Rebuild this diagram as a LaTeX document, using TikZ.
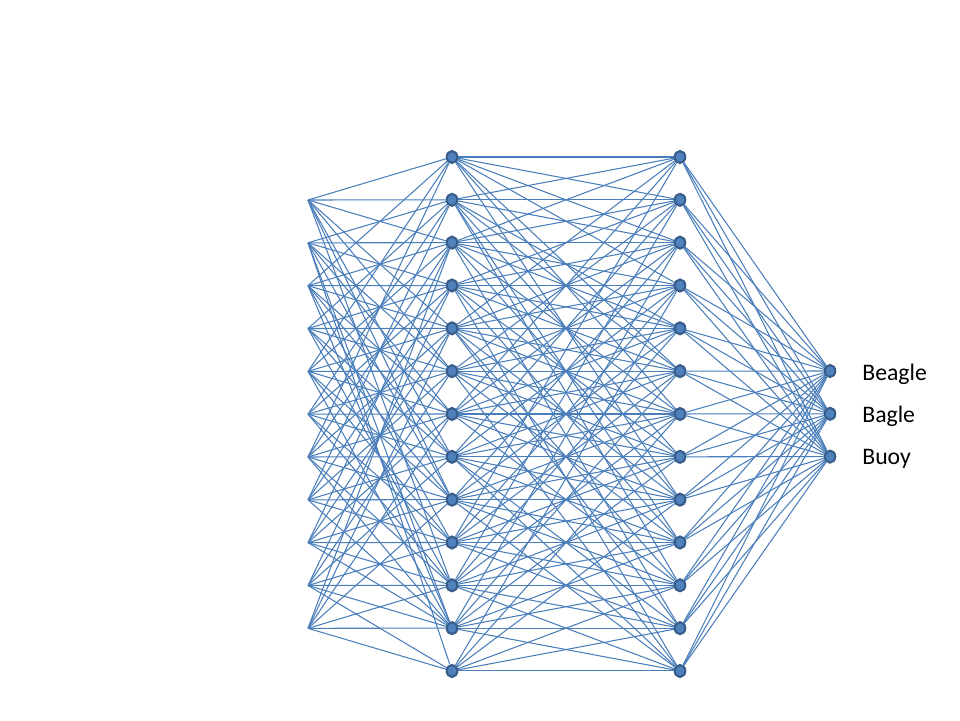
\documentclass[tikz,border=0pt]{standalone}
\usepackage{fontspec}
\setmainfont{Carlito}
\usetikzlibrary{shapes.geometric,backgrounds}
\definecolor{edgeblue}{HTML}{4A7EBB}
\definecolor{nodefill}{HTML}{4F81BD}
\definecolor{nodeline}{HTML}{385D8A}
\newlength{\pxu}
\setlength{\pxu}{0.02cm}
\tikzset{
  neuron/.style={ellipse,draw=nodeline,fill=nodefill,line width=1.2pt,minimum width=10.5\pxu,minimum height=12\pxu,inner sep=0pt},
  conn/.style={draw=edgeblue,line width=0.6pt},
  lbl/.style={anchor=west,font=\fontsize{13.5}{15}\selectfont,inner sep=0pt}
}
\begin{document}
\begin{tikzpicture}[x=0.02cm,y=-0.02cm]
\useasboundingbox (0,0) rectangle (960,720);
% input points
\foreach \i in {0,...,10}{
  \coordinate (in\i) at (308,{200+42.83*\i});
}
% hidden layers
\foreach \j in {0,...,12}{
  \node[neuron] (ha\j) at (452,{157+42.83*\j}) {};
  \node[neuron] (hb\j) at (680,{157+42.83*\j}) {};
}
% outputs
\node[neuron] (o0) at (830,371) {};
\node[neuron] (o1) at (830,413.8) {};
\node[neuron] (o2) at (830,456.6) {};
\node[lbl] (l0) at (862,374) {Beagle};
\node[lbl] (l1) at (862,416) {Bagle};
\node[lbl] (l2) at (862,459) {Buoy};
\begin{scope}[on background layer]
% input -> hidden 1
\foreach \i/\targets in {
  0/{0,1,2,4,5,7,8,10},
  1/{1,2,3,5,6,8,11,12},
  2/{0,2,3,4,6,7,9,11},
  3/{1,3,4,5,7,8,10},
  4/{0,2,4,5,6,8,9,11},
  5/{1,3,5,6,7,9,10},
  6/{0,2,4,6,7,8,10,11},
  7/{1,3,5,7,8,9,11},
  8/{2,4,6,8,9,10,11},
  9/{3,5,7,9,10,11,12},
  10/{2,4,6,8,10,11,12}}{
  \foreach \t in \targets {\draw[conn] (in\i) -- (ha\t);}
}
% hidden 1 -> hidden 2
\foreach \i/\targets in {
  0/{0,1,2,3,5,6,8},
  1/{0,1,2,4,5,7,9,10},
  2/{0,1,2,3,4,6,8,11},
  3/{1,2,3,4,5,7,9,12},
  4/{0,2,3,4,5,6,8,10,11},
  5/{1,3,4,5,6,7,9,12},
  6/{0,2,4,5,6,7,8,10},
  7/{1,3,5,6,7,8,9,11,12},
  8/{2,4,6,7,8,9,10,12},
  9/{0,3,5,7,8,9,10,11},
  10/{1,4,6,8,9,10,11,12},
  11/{2,5,7,9,10,11,12},
  12/{3,6,8,10,11,12}}{
  \foreach \t in \targets {\draw[conn] (ha\i) -- (hb\t);}
}
% hidden 2 -> output
\foreach \j in {0,...,12}{
  \foreach \k in {0,1,2}{\draw[conn] (hb\j) -- (o\k);}
}
\end{scope}
\end{tikzpicture}
\end{document}
